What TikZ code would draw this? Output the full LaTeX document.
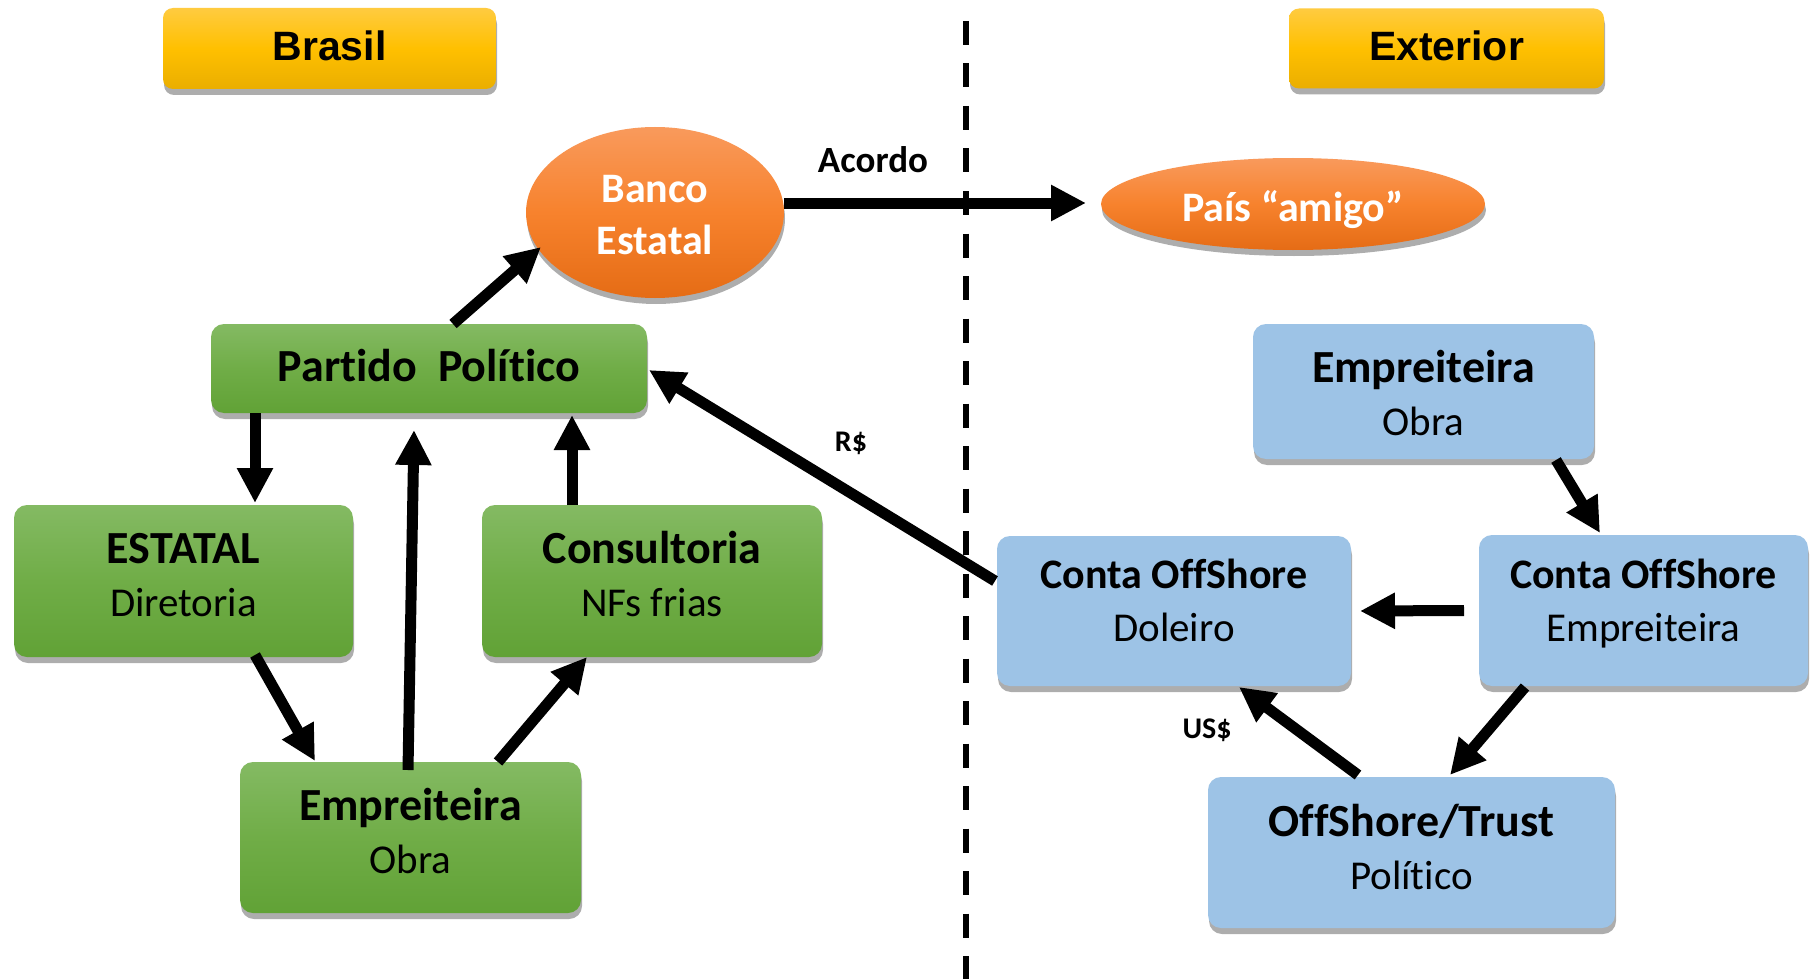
\documentclass[tikz,border=0pt]{standalone}
\usepackage{fontspec}
\setmainfont{Carlito}[Ligatures=NoCommon]
\newfontfamily\arialfont{Liberation Sans}
\usetikzlibrary{shapes.geometric,arrows.meta,shadows,calc}

\definecolor{goldT}{HTML}{FFCB40}
\definecolor{goldM}{HTML}{FFC000}
\definecolor{goldB}{HTML}{EAAE00}
\definecolor{greenT}{HTML}{84BA63}
\definecolor{greenM}{HTML}{70AD47}
\definecolor{greenB}{HTML}{61A236}
\definecolor{blueF}{HTML}{9DC3E6}
\definecolor{orT}{HTML}{F99A5C}
\definecolor{orM}{HTML}{F7822D}
\definecolor{orB}{HTML}{E56C15}

\newcommand\twol[2]{{\bfseries\fontsize{46}{54}\selectfont #1}\\#2}
\newcommand\twosm[2]{{\bfseries\fontsize{42}{52}\selectfont #1}\\#2}

\begin{document}
\begin{tikzpicture}[x=1pt,y=-1pt,
 shadowed/.style={drop shadow={shadow xshift=1pt,shadow yshift=-6pt,opacity=0.32,fill=black}},
 box/.style={shadowed, rounded corners=13pt, inner sep=0pt, outer sep=0pt, align=center, font=\fontsize{41}{53}\selectfont},
 greenbox/.style={box, top color=greenT, bottom color=greenB, middle color=greenM},
 bluebox/.style={box, fill=blueF},
 goldbox/.style={box, rounded corners=10pt, top color=goldT, bottom color=goldB, middle color=goldM, font=\arialfont\bfseries\fontsize{41}{48}\selectfont},
 oval/.style={ellipse, shadowed, inner sep=0pt, outer sep=0pt, top color=orT, bottom color=orB, middle color=orM, text=white, align=center, font=\bfseries\fontsize{42}{52}\selectfont},
 flow/.style={line width=11pt, -{Triangle[length=35pt,width=34pt]}},
 lbl/.style={font=\bfseries\fontsize{30}{36}\selectfont, inner sep=0pt},
 tpos/.style 2 args={text height=#1, text depth=#2},
]
\useasboundingbox[fill=white] (0,0) rectangle (1810,979);

% divider
\coordinate (dtop) at (966,21);
\coordinate (dbot) at (966,995);
\draw[line width=6pt, dash pattern=on 24pt off 18.5pt] (dtop) -- (dbot);

% headers
\node[goldbox, tpos={25pt}{0pt}, minimum width=333pt, minimum height=81pt] (brasil) at (329.5,48.5) {Brasil};
\node[goldbox, tpos={25pt}{0pt}, minimum width=315pt, minimum height=80pt] (exterior) at (1446.5,48.5) {Exterior};

% ellipses
\node[oval, tpos={83pt}{0pt}, minimum width=258pt, minimum height=171pt] (banco) at (655,212.5) {Banco\\Estatal};
\node[oval, tpos={35pt}{0pt}, minimum width=384pt, minimum height=92pt] (pais) at (1293,204) {País “amigo”};

% green boxes
\node[greenbox, tpos={25pt}{0pt}, minimum width=436pt, minimum height=89pt, font=\bfseries\fontsize{46}{54}\selectfont] (partido) at (429,368.5) {Partido\ \ Político};
\node[greenbox, tpos={70pt}{0pt}, minimum width=339pt, minimum height=152pt] (estatal) at (183.5,581) {\twol{ESTATAL}{Diretoria}};
\node[greenbox, tpos={70pt}{0pt}, minimum width=340pt, minimum height=152pt] (consultoria) at (652,581) {\twol{Consultoria}{NFs frias}};
\node[greenbox, tpos={71pt}{0pt}, minimum width=341pt, minimum height=151pt] (empg) at (410.5,837.5) {\twol{Empreiteira}{Obra}};

% blue boxes
\node[bluebox, tpos={87pt}{0pt}, minimum width=341pt, minimum height=135pt] (empb) at (1423.5,391.5) {\twol{Empreiteira}{Obra}};
\node[bluebox, tpos={61pt}{0pt}, minimum width=354pt, minimum height=150pt] (doleiro) at (1174,611) {\twosm{Conta OffShore}{Doleiro}};
\node[bluebox, tpos={61pt}{0pt}, minimum width=329pt, minimum height=151pt] (conemp) at (1643.5,610.5) {\twosm{Conta OffShore}{Empreiteira}};
\node[bluebox, tpos={73pt}{0pt}, minimum width=407pt, minimum height=151pt] (trust) at (1411.5,852.5) {\twol{OffShore/Trust}{Político}};

% labels
\node[lbl, font=\bfseries\fontsize{37}{44}\selectfont] (acordo) at (873,160) {Acordo};
\node[lbl] (rs) at (851,443) {R\$};
\node[lbl] (uss) at (1207,730) {US\$};

% arrows
\draw[flow] ($(partido.north)+(24,0)$) -- ($(banco.center)+(-114,34.5)$);
\draw[flow] ($(partido.south)+(-174,0)$) -- ($(estatal.north)+(71.5,-2)$);
\draw[flow] ($(empg.north)+(-2.5,8)$) -- ($(partido.south)+(-15,17)$);
\draw[flow] ($(consultoria.north)+(-80,0)$) -- ($(partido.south)+(143,2)$);
\draw[flow] ($(estatal.south)+(71.5,-2)$) -- ($(empg.north)+(-95.5,-1)$);
\draw[flow] ($(empg.north)+(87.5,0)$) -- ($(consultoria.south)+(-65,0)$);
\draw[flow] ($(doleiro.west)+(-2,-30)$) -- ($(partido.east)+(2,1.5)$);
\draw[flow] ($(banco.east)+(0,-9.5)$) -- ($(pais.west)+(-15,-1)$);
\draw[flow] ($(empb.south)+(132.5,1)$) -- ($(conemp.north)+(-43.5,-2)$);
\draw[flow] ($(conemp.west)+(-15,0)$) -- ($(doleiro.east)+(9,0)$);
\draw[flow] ($(conemp.south)+(-118.5,1)$) -- ($(trust.north)+(38.5,-2)$);
\draw[flow] ($(trust.north)+(-53.5,-2)$) -- ($(doleiro.south)+(65,1)$);
\end{tikzpicture}
\end{document}
